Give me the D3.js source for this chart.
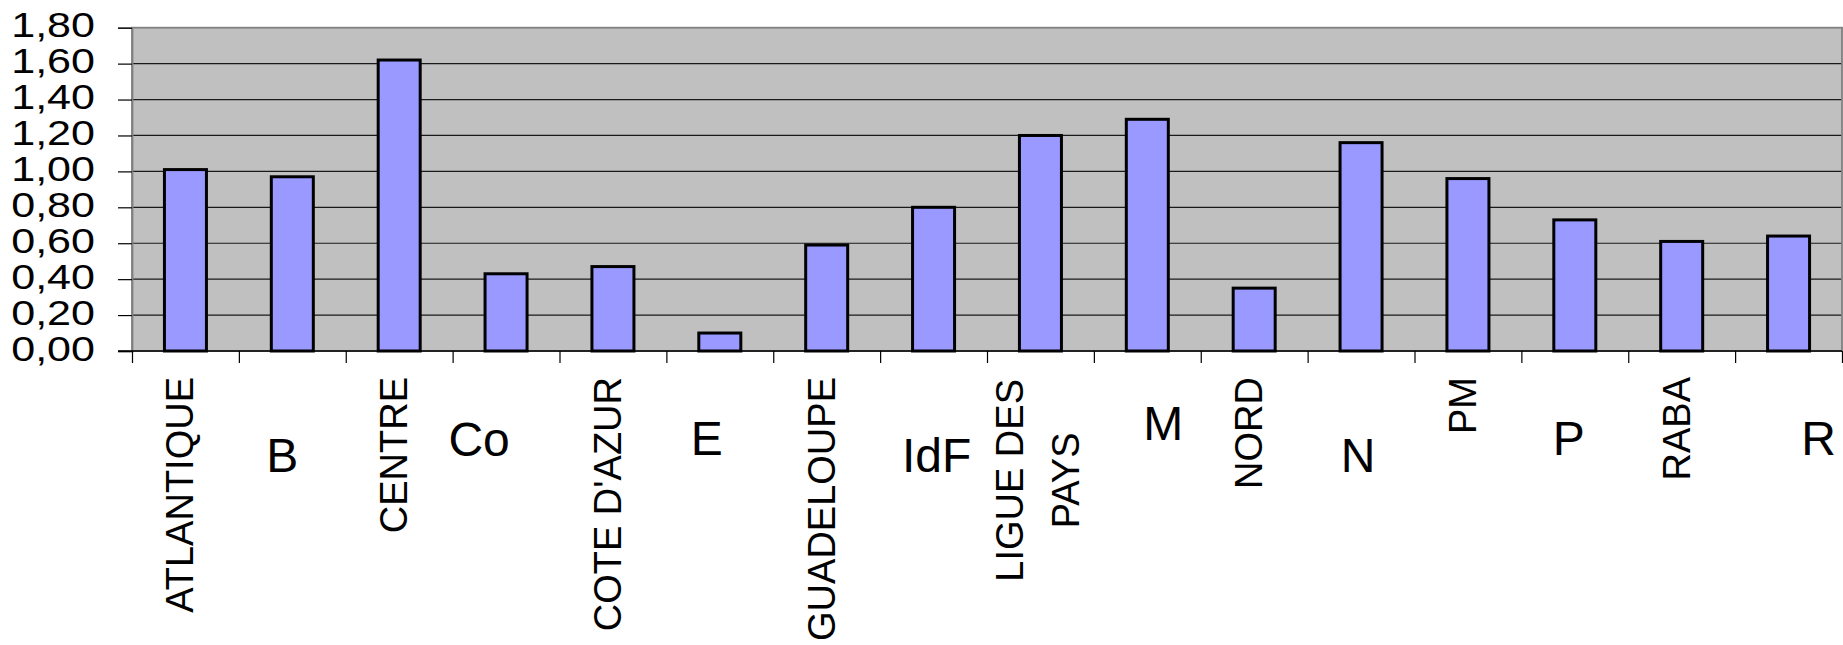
<!DOCTYPE html>
<html>
<head>
<meta charset="utf-8">
<script src="https://cdn.jsdelivr.net/npm/d3@7"></script>
<style>
  html, body { margin: 0; padding: 0; background: #ffffff; }
  svg { display: block; font-family: "Liberation Sans", Arial, sans-serif; }
</style>
</head>
<body>
<svg id="chart" width="1843" height="645"></svg>
<script>
// Category names, in axis order
const categories = ["ATLANTIQUE", "B", "CENTRE", "Co", "COTE D'AZUR", "E", "GUADELOUPE", "IdF",
                    "LIGUE DES PAYS", "M", "NORD", "N", "PM", "P", "RABA", "R"];
// Ratio per category
const values = [1.01, 0.97, 1.62, 0.43, 0.47, 0.10, 0.59, 0.80,
                1.20, 1.29, 0.35, 1.16, 0.96, 0.73, 0.61, 0.64];
// Value axis ticks and their labels (French decimal comma)
const yTickValues = [0, 0.2, 0.4, 0.6, 0.8, 1.0, 1.2, 1.4, 1.6, 1.8];
const yTickLabels = ["0,00", "0,20", "0,40", "0,60", "0,80", "1,00", "1,20", "1,40", "1,60", "1,80"];

// Placement of the category labels: rotated ones read bottom-to-top,
// short ones sit horizontally with their own nudge and baseline.
const labelLayout = {
  "ATLANTIQUE": { rot: true }, "CENTRE": { rot: true }, "COTE D'AZUR": { rot: true },
  "GUADELOUPE": { rot: true }, "LIGUE DES PAYS": { rot: true }, "NORD": { rot: true },
  "PM": { rot: true }, "RABA": { rot: true },
  "B": { dx: -10, base: 471.5 }, "Co": { dx: -27, base: 455.5 }, "E": { dx: -13, base: 455 },
  "IdF": { dx: 3, base: 471.5 }, "M": { dx: 16, base: 440 }, "N": { dx: -3, base: 471.5 },
  "P": { dx: -6, base: 455 }, "R": { dx: 30, base: 455 }
};

const svg = d3.select("#chart");
const plot = { left: 132, right: 1842, top: 27.7, bottom: 351 };

const x = d3.scaleBand()
  .domain(categories)
  .range([plot.left, plot.right])
  .paddingInner(0.607)
  .paddingOuter(0.3035);

const xEdge = d3.scaleLinear()
  .domain([0, categories.length])
  .range([plot.left, plot.right]);

const y = d3.scaleLinear()
  .domain([0, 1.8])
  .range([plot.bottom, plot.top]);

// Plot area background
svg.append("rect")
  .attr("x", plot.left).attr("y", plot.top)
  .attr("width", plot.right - plot.left).attr("height", plot.bottom - plot.top)
  .attr("fill", "#c0c0c0");

// Horizontal gridlines
svg.append("g")
  .selectAll("line")
  .data(yTickValues.filter(v => v > 0 && v < 1.8))
  .join("line")
  .attr("x1", plot.left).attr("x2", plot.right)
  .attr("y1", d => y(d)).attr("y2", d => y(d))
  .attr("stroke", "#1a1a1a").attr("stroke-width", 1.2);

// Plot area frame
svg.append("rect")
  .attr("x", plot.left).attr("y", plot.top)
  .attr("width", plot.right - plot.left).attr("height", plot.bottom - plot.top)
  .attr("fill", "none").attr("stroke", "#808080").attr("stroke-width", 1.8);

// Bars
svg.append("g")
  .selectAll("rect")
  .data(categories.map((c, i) => ({ c, v: values[i] })))
  .join("rect")
  .attr("x", d => x(d.c))
  .attr("y", d => y(d.v))
  .attr("width", x.bandwidth())
  .attr("height", d => y(0) - y(d.v))
  .attr("fill", "#9999ff")
  .attr("stroke", "#000000")
  .attr("stroke-width", 3);

// Value axis
const yAxis = svg.append("g")
  .attr("transform", `translate(${plot.left},0)`)
  .call(d3.axisLeft(y).tickValues(yTickValues).tickSize(14)
    .tickFormat((d, i) => yTickLabels[i]));
yAxis.select(".domain").attr("stroke", "#808080").attr("stroke-width", 1.8);
yAxis.selectAll(".tick line").attr("stroke", "#000").attr("stroke-width", 1.2);
yAxis.selectAll(".tick text")
  .attr("x", null).attr("dy", null)
  .attr("text-anchor", "end")
  .attr("transform", `translate(${95 - plot.left},9) scale(1.23,1)`)
  .attr("font-size", 35)
  .attr("font-family", "Liberation Sans, Arial, sans-serif")
  .attr("fill", "#000");

// Category axis: ticks between categories
const xAxis = svg.append("g")
  .attr("transform", `translate(0,${plot.bottom})`)
  .call(d3.axisBottom(xEdge).tickValues(d3.range(categories.length + 1)).tickSize(12).tickFormat(""));
xAxis.select(".domain").remove();
xAxis.selectAll(".tick line").attr("stroke", "#000").attr("stroke-width", 1.2);
svg.append("line")
  .attr("x1", plot.left - 14).attr("x2", plot.right)
  .attr("y1", plot.bottom).attr("y2", plot.bottom)
  .attr("stroke", "#000").attr("stroke-width", 1.5);

// Category labels
const labels = svg.append("g").attr("fill", "#000");
categories.forEach(c => {
  const cx = x(c) + x.bandwidth() / 2;
  const lay = labelLayout[c];
  if (lay.rot) {
    const words = c.split(" ");
    const lines = words.length > 2 ? [words.slice(0, -1).join(" "), words[words.length - 1]] : [c];
    const top = 377;
    const g = labels.append("g");
    if (lines.length === 1) {
      g.append("text")
        .attr("transform", `translate(${cx + 8},${top}) rotate(-90)`)
        .attr("text-anchor", "end")
        .attr("font-size", 38)
        .text(lines[0]);
    } else {
      const probe = g.append("text").attr("font-size", 38).text(lines[0]);
      const len = probe.node().getComputedTextLength();
      probe.remove();
      lines.forEach((ln, i) => {
        g.append("text")
          .attr("transform", `translate(${cx + 10.5 + (i - (lines.length - 1) / 2) * 56},${top + len / 2 + 2}) rotate(-90)`)
          .attr("text-anchor", "middle")
          .attr("font-size", 38)
          .text(ln);
      });
    }
  } else {
    labels.append("text")
      .attr("x", cx + lay.dx)
      .attr("y", lay.base)
      .attr("text-anchor", "middle")
      .attr("font-size", 48)
      .text(c);
  }
});
</script>
</body>
</html>
